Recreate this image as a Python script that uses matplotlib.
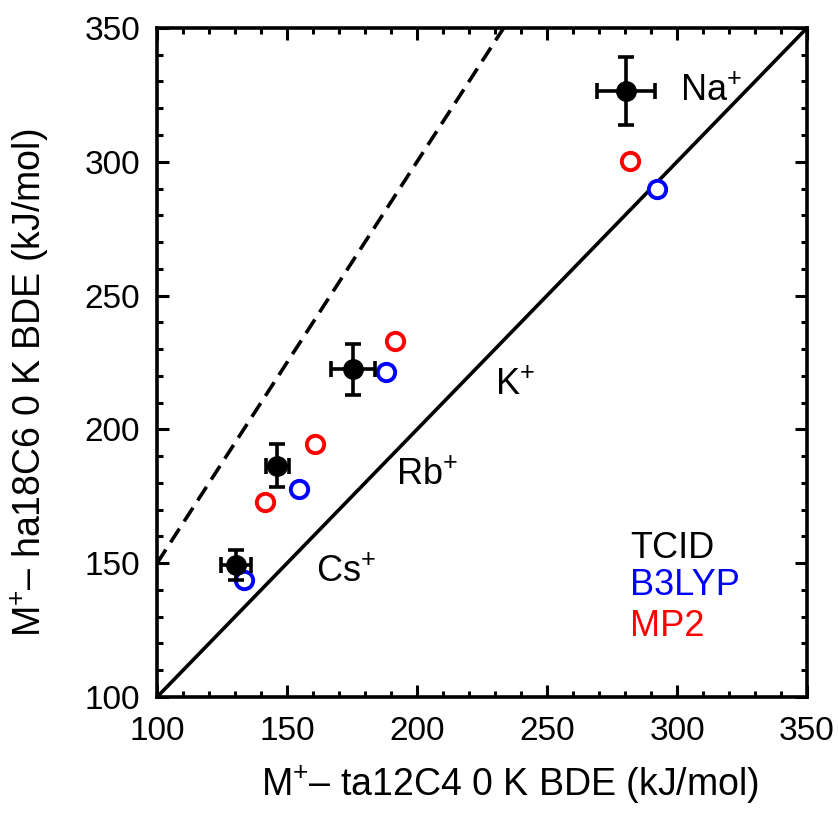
import matplotlib
matplotlib.use("Agg")
from matplotlib import pyplot as plt
from matplotlib.ticker import MultipleLocator

plt.rcParams['font.family'] = ['Liberation Sans', 'DejaVu Sans']
plt.rcParams['mathtext.fontset'] = 'custom'
plt.rcParams['mathtext.rm'] = 'Liberation Sans'
plt.rcParams['mathtext.default'] = 'regular'

# M+ bond dissociation energies, kJ/mol (x: ta12C4, y: ha18C6)
ions = ["Na", "K", "Rb", "Cs"]
tcid_x = [280.4, 175.4, 146.2, 130.4]
tcid_y = [326.5, 222.4, 186.5, 149.4]
tcid_xerr = [11.3, 8.3, 4.4, 5.7]
tcid_yerr = [12.7, 9.5, 7.9, 5.6]
b3lyp_x = [292.3, 188.1, 154.6, 133.5]
b3lyp_y = [289.7, 221.6, 177.8, 143.8]
mp2_x = [281.9, 191.5, 160.8, 141.5]
mp2_y = [300.4, 232.9, 194.7, 173.0]

# ion label anchors
label_x = [301, 230, 192, 161]
label_y = [326.5, 216.5, 183, 146.5]

fig = plt.figure(figsize=(8.38, 8.14), dpi=100)
ax = fig.add_axes([0.1874, 0.1437, 0.7756, 0.822])

lims = [100, 350]
ax.plot(lims, lims, color='black', lw=2.6, zorder=1)
ax.plot([100, 350 / 1.5], [150, 350], color='black', lw=2.6,
        dashes=(4.5, 2.4), zorder=1)

ax.errorbar(tcid_x, tcid_y, xerr=tcid_xerr, yerr=tcid_yerr, fmt='o',
            color='black', ms=14, elinewidth=2.6, capsize=6, capthick=2.6,
            zorder=3)
ax.plot(b3lyp_x, b3lyp_y, 'o', mfc='white', mec='blue', ms=12.5, mew=2.8,
        zorder=2)
ax.plot(mp2_x, mp2_y, 'o', mfc='white', mec='red', ms=12.5, mew=2.8,
        zorder=2)

for name, lx, ly in zip(ions, label_x, label_y):
    ax.text(lx, ly, name + "$^{+}$", fontsize=26, va='center', ha='left')

ax.text(282, 155.5, "TCID", fontsize=26, color='black', va='center')
ax.text(282, 141.5, "B3LYP", fontsize=26, color='blue', va='center')
ax.text(282, 126.5, "MP2", fontsize=26, color='red', va='center')

ax.set_xlim(lims)
ax.set_ylim(lims)
ax.xaxis.set_major_locator(MultipleLocator(50))
ax.yaxis.set_major_locator(MultipleLocator(50))
ax.xaxis.set_minor_locator(MultipleLocator(10))
ax.yaxis.set_minor_locator(MultipleLocator(10))
ax.tick_params(which='both', direction='in', top=True, right=True, width=2.2)
ax.tick_params(which='major', length=8.5, labelsize=24)
ax.tick_params(axis='x', which='major', pad=14)
ax.tick_params(axis='y', which='major', pad=12)
ax.tick_params(which='minor', length=4.5)
for sp in ax.spines.values():
    sp.set_linewidth(2.6)

ax.set_xlabel("M$^{+}$– ta12C4 0 K BDE (kJ/mol)", fontsize=27)
ax.set_ylabel("M$^{+}$– ha18C6 0 K BDE (kJ/mol)", fontsize=27)
ax.xaxis.set_label_coords(0.543, -0.100)
ax.yaxis.set_label_coords(-0.163, 0.469)

fig.savefig("out.png", dpi=100)
